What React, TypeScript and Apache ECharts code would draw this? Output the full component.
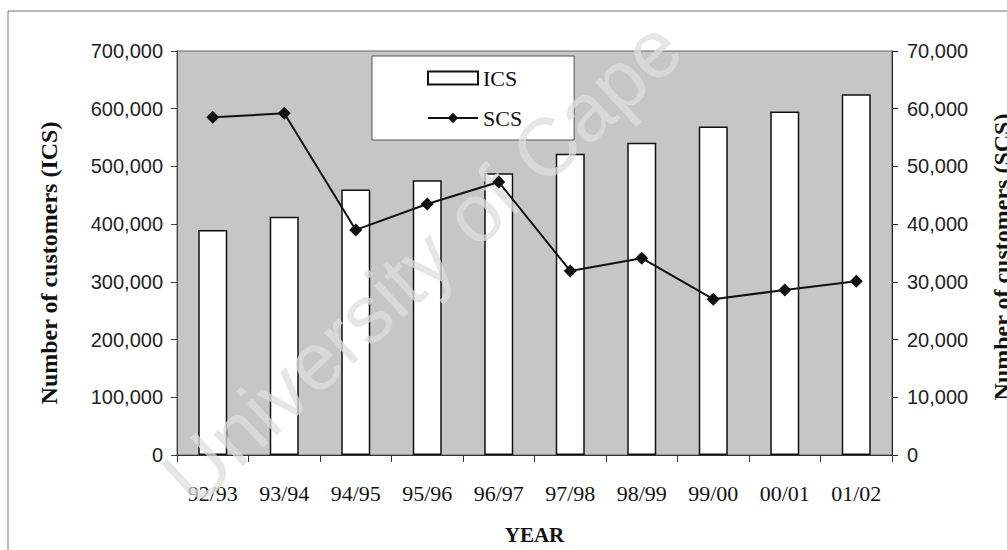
import React, { useEffect, useRef } from "react";
import * as echarts from "echarts";

const categories = ["92/93", "93/94", "94/95", "95/96", "96/97", "97/98", "98/99", "99/00", "00/01", "01/02"];
const icsValues = [390000, 413000, 460000, 476000, 488000, 522000, 541000, 569000, 595000, 625000];
const scsValues = [58500, 59200, 39000, 43500, 47300, 31900, 34100, 27000, 28600, 30100];
const leftAxisMax = 700000;
const leftAxisStep = 100000;
const rightAxisMax = 70000;
const rightAxisStep = 10000;

const serif = "'Liberation Serif', 'Times New Roman', serif";
const sans = "'Liberation Sans', Arial, sans-serif";
const fmt = (v: number) => Math.round(v).toLocaleString("en-US");

export default function App() {
  const ref = useRef<HTMLDivElement>(null);
  useEffect(() => {
    if (!ref.current) return;
    const chart = echarts.init(ref.current, null, { renderer: "svg" });
    chart.setOption({
      animation: false,
      backgroundColor: "#ffffff",
      grid: {
        left: 177,
        right: 115,
        top: 51,
        bottom: 95,
        show: true,
        backgroundColor: "#c6c6c6",
        borderColor: "#666",
        borderWidth: 1,
      },
      legend: {
        orient: "vertical",
        left: 372,
        top: 56,
        padding: [11, 52, 11, 55],
        itemGap: 18,
        itemWidth: 50,
        itemHeight: 13,
        backgroundColor: "#ffffff",
        borderColor: "#555",
        borderWidth: 1,
        textStyle: { fontFamily: serif, fontSize: 22, color: "#111" },
        data: [{ name: "ICS", icon: "rect" }, { name: "SCS" }],
      },
      xAxis: {
        type: "category",
        data: categories,
        boundaryGap: true,
        axisLine: { show: true, lineStyle: { color: "#333", width: 1 } },
        axisTick: { show: true, length: 7, lineStyle: { color: "#333" } },
        axisLabel: { fontFamily: serif, fontSize: 22, color: "#111", margin: 27 },
        name: "YEAR",
        nameLocation: "middle",
        nameGap: 69,
        nameTextStyle: { fontFamily: serif, fontSize: 21, fontWeight: "bold", color: "#111" },
      },
      yAxis: [
        {
          type: "value",
          min: 0,
          max: leftAxisMax,
          interval: leftAxisStep,
          position: "left",
          axisLine: { show: true, lineStyle: { color: "#444" } },
          axisTick: { show: true, length: 6, lineStyle: { color: "#444" } },
          splitLine: { show: false },
          axisLabel: { fontFamily: sans, fontSize: 20, color: "#222", margin: 14, formatter: fmt },
        },
        {
          type: "value",
          min: 0,
          max: rightAxisMax,
          interval: rightAxisStep,
          position: "right",
          axisLine: { show: true, lineStyle: { color: "#222" } },
          axisTick: { show: true, length: 6, lineStyle: { color: "#222" } },
          splitLine: { show: false },
          axisLabel: { fontFamily: sans, fontSize: 20, color: "#222", margin: 15, formatter: fmt },
        },
      ],
      series: [
        {
          name: "ICS",
          type: "bar",
          yAxisIndex: 0,
          data: icsValues,
          barWidth: 29,
          z: 2,
          itemStyle: { color: "#ffffff", borderColor: "#111", borderWidth: 1.5 },
        },
        {
          name: "SCS",
          type: "line",
          yAxisIndex: 1,
          data: scsValues,
          z: 6,
          symbol: "diamond",
          symbolSize: 13,
          lineStyle: { color: "#111", width: 2 },
          itemStyle: { color: "#111" },
        },
      ],
      graphic: [
        {
          type: "rect",
          shape: { x: 8, y: 11, width: 1100, height: 600 },
          style: { fill: "none", stroke: "#777", lineWidth: 1 },
          z: 0,
          silent: true,
        },
        {
          type: "text",
          x: 49,
          y: 263,
          rotation: Math.PI / 2,
          style: {
            text: "Number of customers (ICS)",
            fontFamily: serif,
            fontSize: 24,
            fontWeight: "bold",
            fill: "#111",
            align: "center",
            verticalAlign: "middle",
          },
        },
        {
          type: "text",
          x: 1002,
          y: 257,
          rotation: Math.PI / 2,
          style: {
            text: "Number of customers (SCS)",
            fontFamily: serif,
            fontSize: 24,
            fontWeight: "bold",
            fill: "#111",
            align: "center",
            verticalAlign: "middle",
          },
        },
        {
          type: "text",
          x: 422,
          y: 262,
          rotation: 0.745,
          z: 4,
          silent: true,
          style: {
            text: "University of Cape",
            fontFamily: sans,
            fontSize: 82,
            fill: "rgba(222,222,222,0.75)",
            align: "center",
            verticalAlign: "middle",
          },
        },
      ],
    });
    return () => chart.dispose();
  }, []);
  return (
    <div
      ref={ref}
      style={{ position: "fixed", left: 0, top: 0, width: 1007, height: 550 }}
    />
  );
}
